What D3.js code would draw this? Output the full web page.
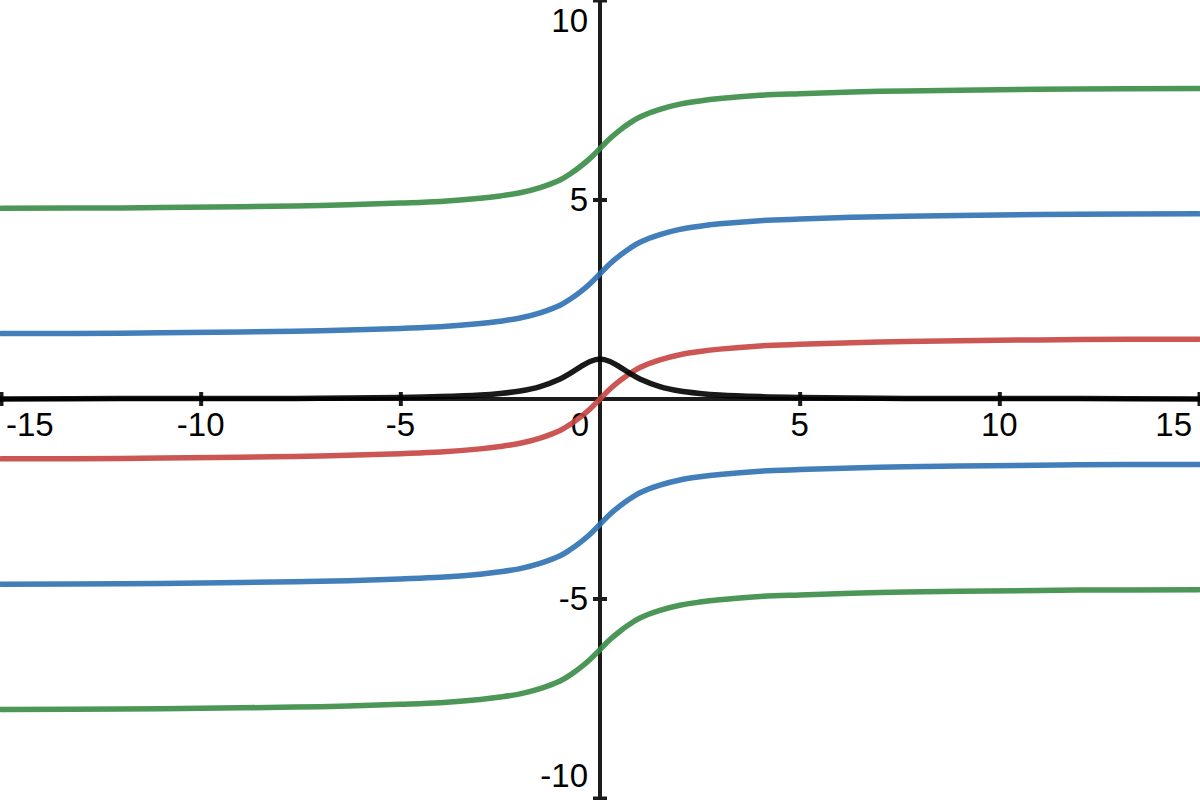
<!DOCTYPE html>
<html>
<head>
<meta charset="utf-8">
<script src="https://cdn.jsdelivr.net/npm/d3@7"></script>
<style>
html, body { margin: 0; padding: 0; background: #fff; }
svg { display: block; }
text { font-family: "Liberation Sans", Arial, sans-serif; font-size: 33px; fill: #000; }
</style>
</head>
<body>
<svg id="chart" width="1200" height="800"></svg>
<script>
// sample x positions
const xs = [-15,-12,-9,-7,-5,-4,-3,-2.5,-2,-1.5,-1,-0.75,-0.5,-0.25,0,0.25,0.5,0.75,1,1.5,2,2.5,3,4,5,7,9,12,15];

// series values at those x positions
const greenUpper = [4.78,4.79,4.82,4.85,4.91,4.95,5.03,5.09,5.17,5.30,5.49,5.64,5.82,6.03,6.28,6.53,6.74,6.92,7.07,7.26,7.39,7.47,7.53,7.61,7.65,7.71,7.74,7.77,7.78];
const blueUpper  = [1.64,1.65,1.68,1.71,1.77,1.81,1.89,1.95,2.03,2.16,2.35,2.50,2.68,2.89,3.14,3.39,3.60,3.78,3.93,4.12,4.25,4.33,4.39,4.47,4.51,4.57,4.60,4.63,4.64];
const redMiddle  = [-1.50,-1.49,-1.46,-1.43,-1.37,-1.33,-1.25,-1.19,-1.11,-0.98,-0.79,-0.64,-0.46,-0.25,0,0.25,0.46,0.64,0.79,0.98,1.11,1.19,1.25,1.33,1.37,1.43,1.46,1.49,1.50];
const blueLower  = [-4.64,-4.63,-4.60,-4.57,-4.51,-4.47,-4.39,-4.33,-4.25,-4.12,-3.93,-3.78,-3.60,-3.39,-3.14,-2.89,-2.68,-2.50,-2.35,-2.16,-2.03,-1.95,-1.89,-1.81,-1.77,-1.71,-1.68,-1.65,-1.64];
const greenLower = [-7.78,-7.77,-7.74,-7.71,-7.65,-7.61,-7.53,-7.47,-7.39,-7.26,-7.07,-6.92,-6.74,-6.53,-6.28,-6.03,-5.82,-5.64,-5.49,-5.30,-5.17,-5.09,-5.03,-4.95,-4.91,-4.85,-4.82,-4.79,-4.78];
const blackBump  = [0.00,0.01,0.01,0.02,0.04,0.06,0.10,0.14,0.20,0.31,0.50,0.64,0.80,0.94,1.00,0.94,0.80,0.64,0.50,0.31,0.20,0.14,0.10,0.06,0.04,0.02,0.01,0.01,0.00];

const xTicks = [-15,-10,-5,0,5,10,15];
const yTicks = [-10,-5,5,10];
const xTickLabels = ["-15","-10","-5","0","5","10","15"];
const yTickLabels = ["-10","-5","5","10"];

const series = [
  {name: "redMiddle",  values: redMiddle,  color: "#c74440"},
  {name: "blueUpper",  values: blueUpper,  color: "#2d70b3"},
  {name: "blueLower",  values: blueLower,  color: "#2d70b3"},
  {name: "greenUpper", values: greenUpper, color: "#388c46"},
  {name: "greenLower", values: greenLower, color: "#388c46"},
  {name: "blackBump",  values: blackBump,  color: "#000000"}
];

const W = 1200, H = 800;
const svg = d3.select("#chart");
svg.append("rect").attr("width", W).attr("height", H).attr("fill", "#fff");

const x = d3.scaleLinear().domain([-15, 15]).range([1, 1199]);
const y = d3.scaleLinear().domain([-10, 10]).range([798, 0]);

const axisColor = "#1c1c1c";

// X axis
const gx = svg.append("g").attr("transform", `translate(0,${y(0)})`)
  .call(d3.axisBottom(x).tickValues(xTicks.filter(d => d !== 0)).tickSize(0).tickFormat(""));
gx.select(".domain").remove();
gx.append("line").attr("x1", 0).attr("x2", W).attr("stroke", axisColor).attr("stroke-width", 4);
gx.selectAll(".tick line").attr("y1", -7).attr("y2", 7).attr("stroke", axisColor).attr("stroke-width", 4);

// Y axis
const gy = svg.append("g").attr("transform", `translate(${x(0)},0)`)
  .call(d3.axisLeft(y).tickValues(yTicks).tickSize(0).tickFormat(""));
gy.select(".domain").remove();
gy.append("line").attr("y1", 0).attr("y2", H).attr("stroke", axisColor).attr("stroke-width", 4);
gy.selectAll(".tick line").attr("x1", -7).attr("x2", 7).attr("stroke", axisColor).attr("stroke-width", 4);

// X tick labels
xTicks.forEach((t, i) => {
  let px = x(t), anchor = "middle";
  if (t === 0) { px = x(0) - 11; anchor = "end"; }
  else if (px < 30) { px = 6; anchor = "start"; }
  else if (px > W - 30) { px = W - 8; anchor = "end"; }
  svg.append("text").attr("x", px).attr("y", y(0) + 37)
    .attr("text-anchor", anchor).text(xTickLabels[i]);
});

// Y tick labels
yTicks.forEach((t, i) => {
  let py = y(t) + 11;
  if (py < 32) py = 32;
  if (py > 787) py = 787;
  svg.append("text").attr("x", x(0) - 12).attr("y", py)
    .attr("text-anchor", "end").text(yTickLabels[i]);
});

// Curves
const line = d3.line()
  .x((d, i) => x(xs[i]))
  .y(d => y(d))
  .curve(d3.curveCatmullRom.alpha(0.5));

svg.append("g").selectAll("path").data(series).join("path")
  .attr("d", d => line(d.values))
  .attr("fill", "none")
  .attr("stroke", d => d.color)
  .attr("stroke-opacity", 0.9)
  .attr("stroke-width", 5.5)
  .attr("stroke-linejoin", "round")
  .attr("stroke-linecap", "round");
</script>
</body>
</html>
